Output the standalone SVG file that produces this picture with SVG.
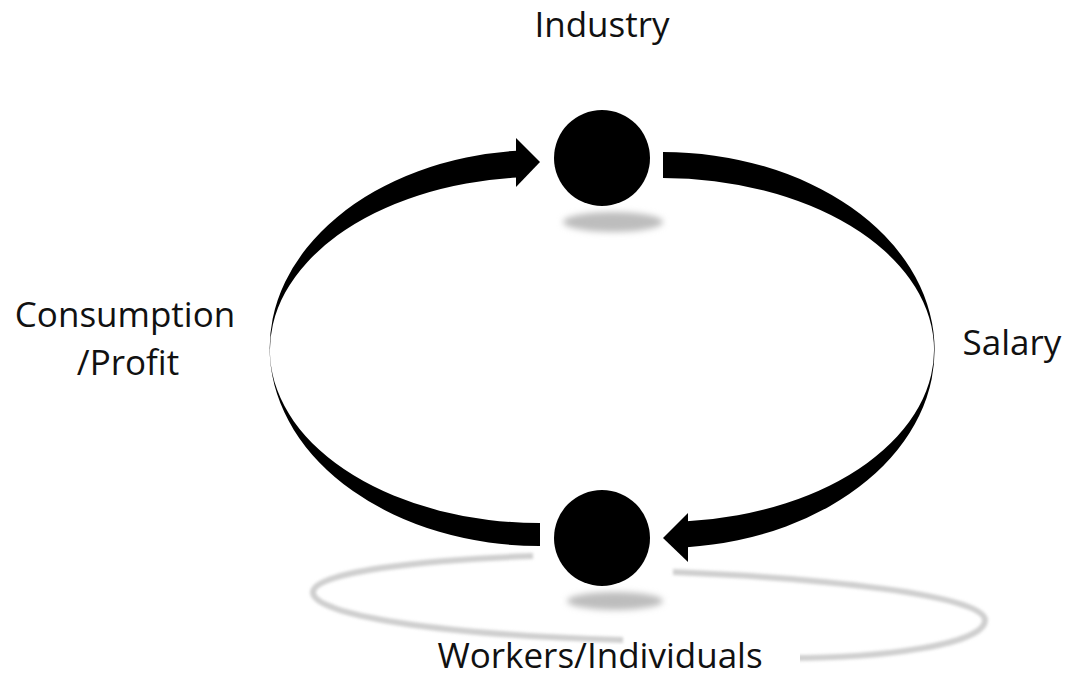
<svg xmlns="http://www.w3.org/2000/svg" width="1067" height="686" viewBox="0 0 1067 686">
<style>
.lbl{font-family:"Open Sans","Liberation Sans",sans-serif;font-size:35px;fill:#111}
.node{fill:#000}
.band{fill:#000}
.shadow{fill:#bdbdbd;filter:url(#blur)}
.ring{fill:none;stroke:#cfcfcf;stroke-width:6;filter:url(#blur2)}
</style>
<defs>
<filter id="blur" x="-50%" y="-100%" width="200%" height="300%"><feGaussianBlur stdDeviation="3"/></filter>
<filter id="blur2" x="-10%" y="-50%" width="120%" height="200%"><feGaussianBlur stdDeviation="1.8"/></filter>
</defs>
<rect width="1067" height="686" fill="#fff"/>
<g id="reflection">
<path class="ring" d="M533,556 C420,560 315,572 313,592 C312,615 440,635 623,640"/>
<path class="ring" d="M673,572 C820,578 985,595 985,620 C985,645 880,658 790,658"/>
</g>
<g id="connectors">
<path class="band" d="M517,150.7 A270,198 0 0 0 540,546 L540,523 A269.5,173 0 0 1 517,177.6 Z"/>
<polygon class="band" points="516,138 540,162 516,187"/>
<path class="band" d="M663,152 A272,198 0 0 1 687,547.2 L687,521.3 A271.5,172 0 0 0 663,178 Z"/>
<polygon class="band" points="688,513 663,538 688,562"/>
</g>
<g id="industry">
<ellipse class="shadow" cx="613" cy="222" rx="50" ry="10"/>
<circle class="node" cx="602" cy="158" r="48"/>
<text class="lbl" x="602" y="37" text-anchor="middle">Industry</text>
</g>
<g id="workers">
<ellipse class="shadow" cx="615" cy="601" rx="48" ry="9"/>
<circle class="node" cx="602" cy="538" r="48"/>
<rect x="425" y="645" width="375" height="41" fill="#fff"/>
<text class="lbl" x="600" y="668" text-anchor="middle">Workers/Individuals</text>
</g>
<g id="consumption-label">
<text class="lbl" x="125" y="327" text-anchor="middle">Consumption</text>
<text class="lbl" x="128" y="375" text-anchor="middle">/Profit</text>
</g>
<g id="salary-label">
<text class="lbl" x="1012" y="355" text-anchor="middle">Salary</text>
</g>
</svg>
